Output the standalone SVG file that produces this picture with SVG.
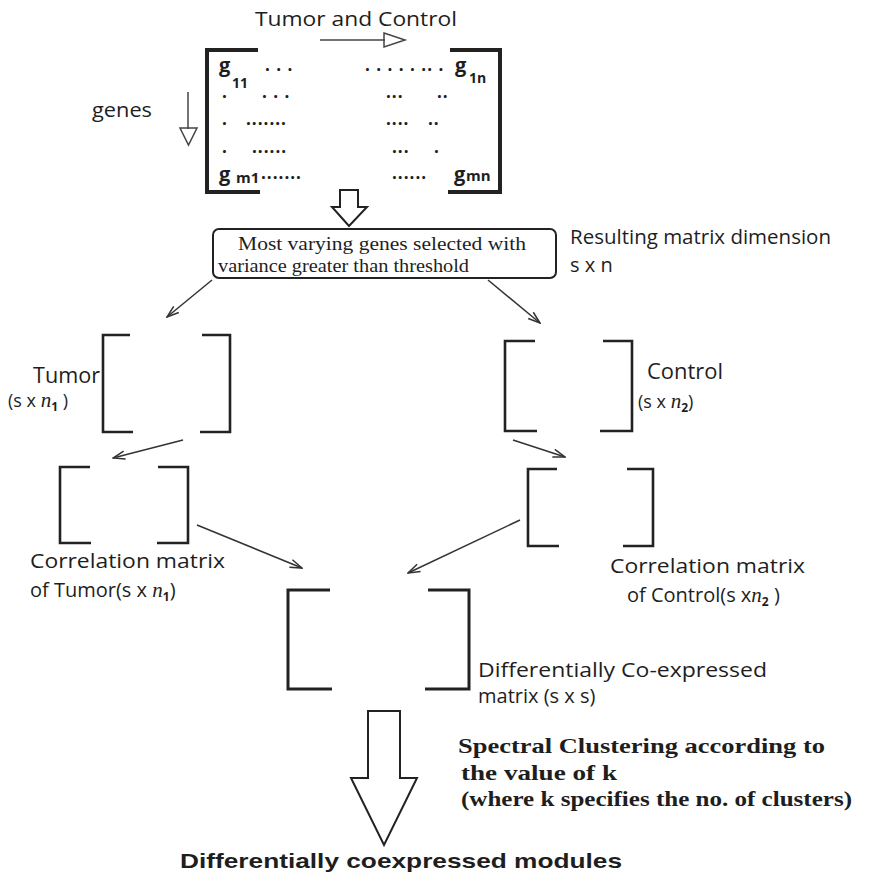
<svg xmlns="http://www.w3.org/2000/svg" width="886" height="887" viewBox="0 0 886 887">
<style>
  .lab{font-family:"Open Sans","Liberation Sans",sans-serif;font-size:20px;fill:#1e1e1e}
  .mi{font-family:"Liberation Serif","DejaVu Serif",serif;font-style:italic;font-size:21px}
  .sub{font-size:12px;font-weight:bold}
  .tm{font-family:"Liberation Serif","Times New Roman",serif;font-size:18px;fill:#1e1e1e}
  .tb{font-family:"Liberation Serif","Times New Roman",serif;font-weight:bold;font-size:21px;fill:#1e1e1e}
  .hb{font-family:"Liberation Sans",Arial,sans-serif;font-weight:bold;font-size:21px;fill:#1e1e1e}
  .mx{font-family:"Open Sans","Liberation Sans",sans-serif;font-weight:bold;font-size:20px;fill:#1e1e1e}
  .dt{font-family:"Open Sans","Liberation Sans",sans-serif;font-weight:bold;font-size:17px;fill:#1e1e1e;letter-spacing:1px}
  .br{fill:none;stroke:#222;stroke-width:2.6}
  .thick{stroke-width:4}
  .con{stroke:#333;stroke-width:1.5;fill:none;marker-end:url(#v)}
  .blk{fill:#fff;stroke:#222;stroke-width:2;stroke-linejoin:miter}
  .thin{stroke:#444;stroke-width:1.5;fill:none}
</style>
<defs>
  <marker id="v" viewBox="0 0 14 10" refX="13" refY="5" markerWidth="14" markerHeight="10" markerUnits="userSpaceOnUse" orient="auto">
    <path d="M1,1 L13,5 L1,9" fill="none" stroke="#333" stroke-width="1.5"/>
  </marker>
</defs>
<rect width="886" height="887" fill="#fff"/>

<!-- expression matrix: genes x samples -->
<g id="expression-matrix">
  <text class="lab" x="255" y="26" textLength="202" lengthAdjust="spacingAndGlyphs">Tumor and Control</text>
  <line class="thin" x1="320" y1="40" x2="385" y2="40"/>
  <path class="thin" d="M384,33 L405,40 L384,47 Z" fill="#fff"/>
  <text class="lab" x="92" y="117" textLength="60" lengthAdjust="spacingAndGlyphs">genes</text>
  <line class="thin" x1="188" y1="92" x2="188" y2="129"/>
  <path class="thin" d="M180,128 L197,128 L188.5,145 Z" fill="#fff"/>
  <path class="br thick" d="M258,50 H207 V192 H260"/>
  <path class="br thick" d="M450,50 H500 V192 H448"/>
  <text class="mx" x="219" y="72">g</text>
  <text class="mx sub" x="232" y="88" style="font-size:14px">11</text>
  <text class="dt" x="265" y="71">. . .</text>
  <text class="dt" x="365" y="71">. . . . . .. .</text>
  <text class="mx" x="455" y="72">g</text>
  <text class="mx sub" x="469" y="83" style="font-size:14px">1n</text>
  <text class="dt" x="222" y="98">.</text>
  <text class="dt" x="262" y="98">. . .</text>
  <text class="dt" x="386" y="98">...</text>
  <text class="dt" x="437" y="98">..</text>
  <text class="dt" x="222" y="125">.</text>
  <text class="dt" x="246" y="125">.......</text>
  <text class="dt" x="386" y="125">....</text>
  <text class="dt" x="428" y="125">..</text>
  <text class="dt" x="222" y="153">.</text>
  <text class="dt" x="252" y="153">......</text>
  <text class="dt" x="392" y="153">...</text>
  <text class="dt" x="434" y="153">.</text>
  <text class="mx" x="219" y="181">g</text>
  <text class="mx" x="236" y="183" style="font-size:15px">m1</text>
  <text class="dt" x="261" y="179">.......</text>
  <text class="dt" x="392" y="179">......</text>
  <text class="mx" x="454" y="181">g</text>
  <text class="mx" x="466" y="181" style="font-size:15px">mn</text>
  <path class="blk" d="M340,190 H358 V207 H367 L349,226 L332,207 H340 Z"/>
</g>

<!-- variance filter -->
<g id="variance-filter">
  <rect x="213" y="229" width="343" height="49" rx="6" fill="#fff" stroke="#222" stroke-width="2"/>
  <text class="tm" x="238" y="250" textLength="288" lengthAdjust="spacingAndGlyphs">Most varying genes selected with</text>
  <text class="tm" x="218" y="272" textLength="251" lengthAdjust="spacingAndGlyphs">variance greater than threshold</text>
  <text class="lab" x="570" y="244" textLength="261" lengthAdjust="spacingAndGlyphs">Resulting matrix dimension</text>
  <text class="lab" x="570" y="272">s x n</text>
</g>

<!-- tumor sub-matrix -->
<g id="tumor">
  <path class="br" d="M130,335 H103 V432 H133"/>
  <path class="br" d="M202,335 H230 V432 H200"/>
  <text class="lab" x="33" y="383" style="font-size:22px" textLength="67" lengthAdjust="spacingAndGlyphs">Tumor</text>
  <text class="lab" x="8" y="407" style="font-size:18px">(s x <tspan class="mi">n</tspan><tspan class="sub" dy="4">1</tspan><tspan dy="-4"> )</tspan></text>
</g>

<!-- control sub-matrix -->
<g id="control">
  <path class="br" d="M535,341 H505 V431 H537"/>
  <path class="br" d="M603,341 H632 V431 H600"/>
  <text class="lab" x="647" y="379" style="font-size:22px" textLength="76" lengthAdjust="spacingAndGlyphs">Control</text>
  <text class="lab" x="638" y="408" style="font-size:18px">(s x <tspan class="mi">n</tspan><tspan class="sub" dy="4">2</tspan><tspan dy="-4">)</tspan></text>
</g>

<!-- tumor correlation matrix -->
<g id="tumor-correlation">
  <path class="br" d="M90,467 H60 V543 H91"/>
  <path class="br" d="M158,467 H188 V543 H157"/>
  <text class="lab" x="30" y="568" textLength="195" lengthAdjust="spacingAndGlyphs">Correlation matrix</text>
  <text class="lab" x="30" y="597">of Tumor(s  x <tspan class="mi">n</tspan><tspan class="sub" dy="4">1</tspan><tspan dy="-4">)</tspan></text>
</g>

<!-- control correlation matrix -->
<g id="control-correlation">
  <path class="br" d="M557,469 H528 V546 H559"/>
  <path class="br" d="M627,469 H653 V546 H623"/>
  <text class="lab" x="610" y="573" textLength="195" lengthAdjust="spacingAndGlyphs">Correlation matrix</text>
  <text class="lab" x="627" y="602">of Control(s x<tspan class="mi">n</tspan><tspan class="sub" dy="4">2</tspan><tspan dy="-4"> )</tspan></text>
</g>

<!-- differential co-expression matrix -->
<g id="diff-coexpression">
  <path class="br" style="stroke-width:3" d="M330,590 H288 V689 H332"/>
  <path class="br" style="stroke-width:3" d="M428,590 H469 V689 H425"/>
  <text class="lab" x="478" y="677" textLength="289" lengthAdjust="spacingAndGlyphs">Differentially Co-expressed</text>
  <text class="lab" x="478" y="703">matrix (s x s)</text>
</g>

<!-- spectral clustering step -->
<g id="spectral-clustering">
  <path class="blk" d="M368,711 H400 V778 H417 L384,845 L351,778 H368 Z"/>
  <text class="tb" x="458" y="753" textLength="367" lengthAdjust="spacingAndGlyphs">Spectral Clustering according to</text>
  <text class="tb" x="461" y="780" textLength="156" lengthAdjust="spacingAndGlyphs">the value of k</text>
  <text class="tb" x="461" y="806" textLength="391" lengthAdjust="spacingAndGlyphs">(where k specifies the no. of clusters)</text>
</g>

<!-- result -->
<g id="modules">
  <text class="hb" x="180" y="868" textLength="442" lengthAdjust="spacingAndGlyphs">Differentially coexpressed modules</text>
</g>

<g id="connectors">
  <line class="con" x1="212" y1="280" x2="167" y2="317"/>
  <line class="con" x1="488" y1="280" x2="540" y2="323"/>
  <line class="con" x1="183" y1="440" x2="113" y2="458"/>
  <line class="con" x1="513" y1="440" x2="565" y2="457"/>
  <line class="con" x1="197" y1="525" x2="302" y2="568"/>
  <line class="con" x1="520" y1="520" x2="408" y2="573"/>
</g>
</svg>
